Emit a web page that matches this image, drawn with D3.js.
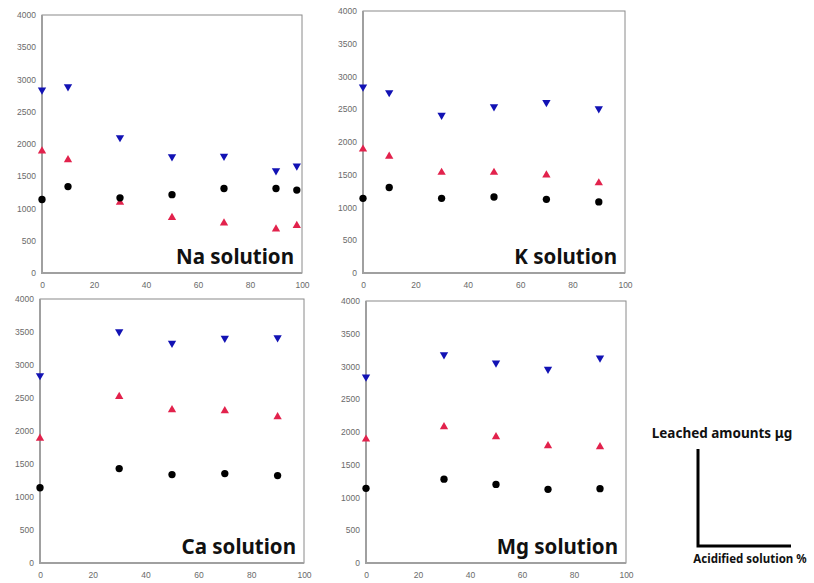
<!DOCTYPE html>
<html><head><meta charset="utf-8">
<script src="https://cdn.jsdelivr.net/npm/d3@7"></script>
<style>body{margin:0;background:#fff}</style>
</head><body><svg id="c" width="814" height="583"></svg>
<script>
// ---- data ----
const panelNames = ["Na solution", "K solution", "Ca solution", "Mg solution"];
const naX = [0, 10, 30, 50, 70, 90, 98];
const naBlue = [2840, 2890, 2100, 1805, 1810, 1585, 1660];
const naRed = [1890, 1755, 1095, 860, 775, 680, 735];
const naBlack = [1140, 1340, 1165, 1215, 1310, 1310, 1285];
const kX = [0, 10, 30, 50, 70, 90];
const kBlue = [2840, 2755, 2410, 2540, 2605, 2510];
const kRed = [1890, 1780, 1535, 1535, 1495, 1375];
const kBlack = [1140, 1305, 1140, 1160, 1125, 1085];
const caX = [0, 30, 50, 70, 90];
const caBlue = [2840, 3505, 3330, 3405, 3415];
const caRed = [1890, 2520, 2320, 2305, 2215];
const caBlack = [1140, 1430, 1340, 1355, 1325];
const mgX = [0, 30, 50, 70, 90];
const mgBlue = [2840, 3180, 3055, 2960, 3130];
const mgRed = [1890, 2080, 1925, 1790, 1775];
const mgBlack = [1140, 1280, 1200, 1125, 1135];
const xTicks = [0, 20, 40, 60, 80, 100];
const yTicks = [0, 500, 1000, 1500, 2000, 2500, 3000, 3500, 4000];
const guideY = "Leached amounts μg";
const guideX = "Acidified solution %";

const panelData = [
  {x: naX, blue: naBlue, red: naRed, black: naBlack},
  {x: kX, blue: kBlue, red: kRed, black: kBlack},
  {x: caX, blue: caBlue, red: caRed, black: caBlack},
  {x: mgX, blue: mgBlue, red: mgRed, black: mgBlack}
];
// layout
const boxes = [
  {l: 42, t: 15, r: 302, b: 273},
  {l: 363, t: 11, r: 625, b: 273},
  {l: 40, t: 299, r: 304, b: 563},
  {l: 366, t: 301, r: 626, b: 563}
];
const BLUE = "#1212b4", RED = "#e2224c", BLACK = "#000";

const svg = d3.select("#c");
const tri = d3.symbol().type(d3.symbolTriangle).size(30);
const circ = d3.symbol().type(d3.symbolCircle).size(42);

panelData.forEach((pd, i) => {
  const bx = boxes[i];
  const x = d3.scaleLinear().domain([0, 100]).range([bx.l, bx.r]);
  const y = d3.scaleLinear().domain([0, 4000]).range([bx.b, bx.t]);
  const g = svg.append("g");
  // frame
  g.append("rect").attr("x", bx.l).attr("y", bx.t).attr("width", bx.r - bx.l).attr("height", bx.b - bx.t)
    .attr("fill", "none").attr("stroke", "#8a8a8a").attr("stroke-width", 1);
  g.append("path").attr("d", `M${bx.l},${bx.t}V${bx.b}H${bx.r}`).attr("fill", "none")
    .attr("stroke", "#a0a0a0").attr("stroke-width", 2);
  // axes (labels only)
  const ax = g.append("g").attr("transform", `translate(0,${bx.b})`)
    .call(d3.axisBottom(x).tickValues(xTicks).tickFormat(d3.format("d")).tickSize(0).tickPadding(9));
  const ay = g.append("g").attr("transform", `translate(${bx.l},0)`)
    .call(d3.axisLeft(y).tickValues(yTicks).tickFormat(d3.format("d")).tickSize(0).tickPadding(6));
  [ax, ay].forEach(a => {
    a.select(".domain").remove();
    a.selectAll("text").attr("font-family", "Liberation Sans, Arial, sans-serif")
      .attr("font-size", 8.5).attr("fill", "#6a6a6a");
  });
  // points
  const pts = pd.x.map((xv, j) => ({xv, b: pd.blue[j], r: pd.red[j], k: pd.black[j]}));
  g.selectAll(".bl").data(pts).enter().append("path")
    .attr("d", tri).attr("fill", BLUE)
    .attr("transform", d => `translate(${x(d.xv)},${y(d.b)}) rotate(180)`);
  g.selectAll(".rd").data(pts).enter().append("path")
    .attr("d", tri).attr("fill", RED)
    .attr("transform", d => `translate(${x(d.xv)},${y(d.r)})`);
  g.selectAll(".bk").data(pts).enter().append("path")
    .attr("d", circ).attr("fill", BLACK)
    .attr("transform", d => `translate(${x(d.xv)},${y(d.k)})`);
  // panel label
  g.append("text").attr("x", bx.r - 8).attr("y", bx.b - 9).attr("text-anchor", "end")
    .attr("font-family", "Noto Sans, sans-serif").attr("font-weight", "bold")
    .attr("font-size", 20.5).attr("fill", "#111").text(panelNames[i]);
});

// guide axes schematic
const gg = svg.append("g");
gg.append("text").attr("x", 722).attr("y", 438).attr("text-anchor", "middle")
  .attr("font-family", "Noto Sans, sans-serif").attr("font-weight", "bold")
  .attr("font-size", 13.5).attr("fill", "#111").text(guideY);
gg.append("path").attr("d", "M698,449V546H791").attr("fill", "none")
  .attr("stroke", "#000").attr("stroke-width", 3);
gg.append("text").attr("x", 750).attr("y", 563).attr("text-anchor", "middle")
  .attr("font-family", "Noto Sans, sans-serif").attr("font-weight", "bold")
  .attr("font-size", 11.5).attr("fill", "#111").text(guideX);
</script></body></html>
